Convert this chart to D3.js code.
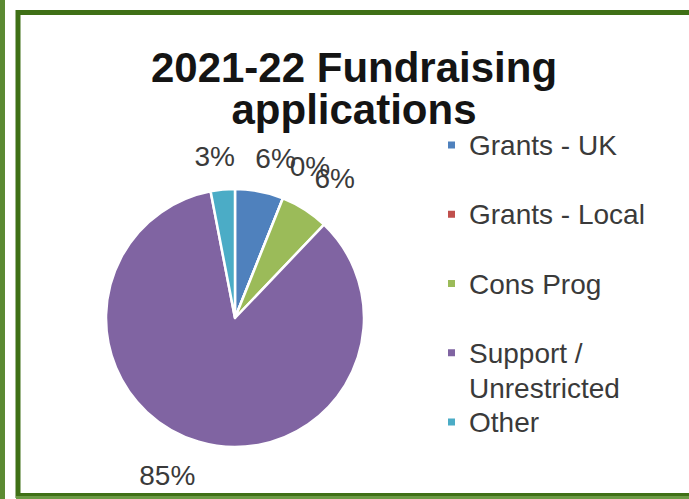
<!DOCTYPE html>
<html>
<head>
<meta charset="utf-8">
<script src="https://cdn.jsdelivr.net/npm/d3@7"></script>
<style>
  html, body { margin: 0; padding: 0; background: #fff; }
  svg { display: block; font-family: "Liberation Sans", Arial, sans-serif; }
</style>
</head>
<body>
<svg id="chart" width="689" height="499"></svg>
<script>
// Chart data
const titleLines = ["2021-22 Fundraising", "applications"];
const categories = ["Grants - UK", "Grants - Local", "Cons Prog", "Support / Unrestricted", "Other"];
const legendLines = [["Grants - UK"], ["Grants - Local"], ["Cons Prog"], ["Support /", "Unrestricted"], ["Other"]];
const counts = [2, 0, 2, 28, 1];
const colors = ["#4f81bd", "#c0504d", "#9bbb59", "#8064a2", "#4bacc6"];

const svg = d3.select("#chart");
const width = 689, height = 499;

// Frame: thin stripe at the far left, then the chart border
svg.append("rect").attr("x", 0).attr("y", 0).attr("width", 5).attr("height", height).attr("fill", "#5b8a32");
svg.append("rect").attr("x", 18).attr("y", 12.5).attr("width", width).attr("height", 483)
    .attr("fill", "#fff").attr("stroke", "#3f7016").attr("stroke-width", 5);
svg.append("rect").attr("x", 16).attr("y", 496).attr("width", width).attr("height", 3).attr("fill", "#6c9a45");

// Title
svg.append("text")
    .attr("x", 356)
    .attr("y", 82)
    .attr("text-anchor", "middle")
    .attr("font-size", "42px")
    .attr("font-weight", "bold")
    .attr("fill", "#141414")
    .selectAll("tspan")
    .data(titleLines)
    .join("tspan")
    .attr("x", 354)
    .attr("dy", (d, i) => i === 0 ? 0 : 42)
    .text(d => d);

// Pie
const cx = 235, cy = 318, R = 129;
const total = d3.sum(counts);
const pie = d3.pie().sort(null).value(d => d);
const arcs = pie(counts);
const arc = d3.arc().innerRadius(0).outerRadius(R);
const fmt = v => Math.round(v / total * 100) + "%";

const g = svg.append("g").attr("transform", `translate(${cx},${cy})`);
g.selectAll("path")
    .data(arcs)
    .join("path")
    .attr("d", arc)
    .attr("fill", (d, i) => colors[i])
    .attr("stroke", "#fff")
    .attr("stroke-width", 2.5)
    .attr("stroke-linejoin", "round");

// Data labels: box sits just outside the edge, its near corner facing the slice
const labelSize = 28, gap = 18, boxH = 32, blend = 0.3;
const labels = g.selectAll("text.lbl")
    .data(arcs)
    .join("text")
    .attr("class", "lbl")
    .attr("font-size", labelSize + "px")
    .attr("fill", "#3a3a3a")
    .attr("text-anchor", "middle")
    .text(d => fmt(d.value));

labels.each(function(d) {
    const w = this.getComputedTextLength();
    const a = (d.startAngle + d.endAngle) / 2;
    const s = Math.sin(a), c = Math.cos(a);
    const px = s * (R + gap), py = -c * (R + gap);
    const tx = Math.sign(s) * Math.min(1, Math.abs(s) / blend);
    const ty = Math.sign(c) * Math.min(1, Math.abs(c) / blend);
    const bx = px + tx * w / 2;
    const by = py - ty * boxH / 2;
    d3.select(this).attr("x", bx).attr("y", by + boxH / 2 - 0.21 * labelSize);
});

// Legend
const ly = d3.scalePoint().domain(categories).range([145, 422]);
const lineH = 35;
const leg = svg.append("g");
const items = leg.selectAll("g")
    .data(categories)
    .join("g")
    .attr("transform", d => `translate(448,${ly(d)})`);
items.append("rect")
    .attr("x", 0).attr("y", -3.5)
    .attr("width", 7).attr("height", 7)
    .attr("fill", (d, i) => colors[i]);
items.append("text")
    .attr("x", 21)
    .attr("font-size", "28px")
    .attr("fill", "#3a3a3a")
    .selectAll("tspan")
    .data((d, i) => legendLines[i])
    .join("tspan")
    .attr("x", 21)
    .attr("y", (d, i) => i * lineH)
    .attr("dy", "0.36em")
    .text(d => d);
</script>
</body>
</html>
